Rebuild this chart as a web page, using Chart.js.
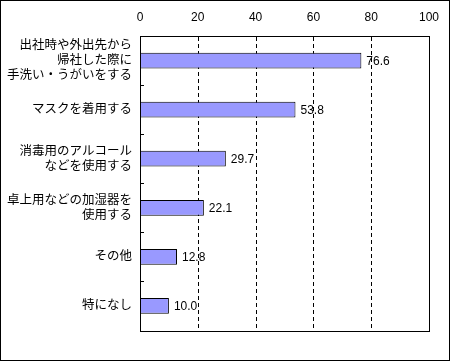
<!DOCTYPE html>
<html>
<head>
<meta charset="utf-8">
<script src="https://cdn.jsdelivr.net/npm/chart.js@4/dist/chart.umd.min.js"></script>
<style>
    body { margin: 0; background: #fff; }
    canvas { display: block; }
</style>
</head>
<body>
<canvas id="chart" width="450" height="361"></canvas>
<script>
const categories = [
    ['出社時や外出先から', '帰社した際に', '手洗い・うがいをする'],
    'マスクを着用する',
    ['消毒用のアルコール', 'などを使用する'],
    ['卓上用などの加湿器を', '使用する'],
    'その他',
    '特になし'
];
const values = [76.6, 53.8, 29.7, 22.1, 12.8, 10.0];
const xTicks = [0, 20, 40, 60, 80, 100];

const fontFamily = '"Liberation Sans", "Noto Sans CJK JP", sans-serif';

// dashed grid behind the bars
const dashedGrid = {
    id: 'dashedGrid',
    beforeDatasetsDraw(chart) {
        const ctx = chart.ctx;
        const area = chart.chartArea;
        const xScale = chart.scales.x;
        ctx.save();
        ctx.strokeStyle = '#000';
        ctx.lineWidth = 1;
        ctx.setLineDash([4, 3]);
        xTicks.slice(1, -1).forEach(v => {
            const x = Math.round(xScale.getPixelForValue(v)) + 0.5;
            ctx.beginPath();
            ctx.moveTo(x, area.top + 1);
            ctx.lineTo(x, area.bottom);
            ctx.stroke();
        });
        ctx.restore();
    }
};

// frame, little category ticks and value labels
const decorations = {
    id: 'decorations',
    afterDatasetsDraw(chart) {
        const ctx = chart.ctx;
        const area = chart.chartArea;
        const yScale = chart.scales.y;
        ctx.save();
        ctx.strokeStyle = '#000';
        ctx.lineWidth = 1;
        ctx.setLineDash([]);

        // plot frame
        ctx.strokeRect(Math.round(area.left) + 0.5, Math.round(area.top) + 0.5,
            Math.round(area.right - area.left), Math.round(area.bottom - area.top));

        // small ticks between categories, pointing inwards
        for (let i = 1; i < categories.length; i++) {
            const y = Math.round(yScale.getPixelForValue(i - 0.5)) + 0.5;
            ctx.beginPath();
            ctx.moveTo(area.left, y);
            ctx.lineTo(area.left + 4, y);
            ctx.stroke();
        }

        // value labels
        ctx.fillStyle = '#000';
        ctx.font = '12px ' + fontFamily;
        ctx.textAlign = 'left';
        ctx.textBaseline = 'middle';
        const meta = chart.getDatasetMeta(0);
        meta.data.forEach((bar, i) => {
            ctx.fillText(values[i].toFixed(1), bar.x + 5, bar.y + 1);
        });

        // outer border of the picture
        ctx.strokeRect(0.5, 0.5, chart.width - 1, chart.height - 1);
        ctx.restore();
    }
};

new Chart(document.getElementById('chart'), {
    type: 'bar',
    data: {
        labels: categories,
        datasets: [{
            data: values,
            backgroundColor: '#9999FF',
            borderColor: '#000',
            borderWidth: 1,
            categoryPercentage: 1,
            barPercentage: 0.32
        }]
    },
    options: {
        indexAxis: 'y',
        responsive: false,
        animation: false,
        layout: {
            padding: {left: 0, right: 19, top: 0, bottom: 6}
        },
        plugins: {
            legend: {display: false},
            tooltip: {enabled: false}
        },
        scales: {
            x: {
                position: 'top',
                min: 0,
                max: 100,
                afterBuildTicks: scale => {
                    scale.ticks = xTicks.map(v => ({value: v}));
                },
                afterFit: scale => {
                    scale.height = 36;
                },
                grid: {
                    display: false,
                    drawTicks: false
                },
                border: {display: false},
                ticks: {
                    color: '#000',
                    padding: 11,
                    font: {family: fontFamily, size: 12}
                }
            },
            y: {
                afterFit: scale => {
                    scale.width = 140;
                },
                grid: {
                    display: false,
                    drawTicks: false
                },
                border: {display: false},
                ticks: {
                    color: '#000',
                    padding: 8,
                    font: {family: fontFamily, size: 12.5, lineHeight: 1.2}
                }
            }
        }
    },
    plugins: [dashedGrid, decorations]
});
</script>
</body>
</html>
